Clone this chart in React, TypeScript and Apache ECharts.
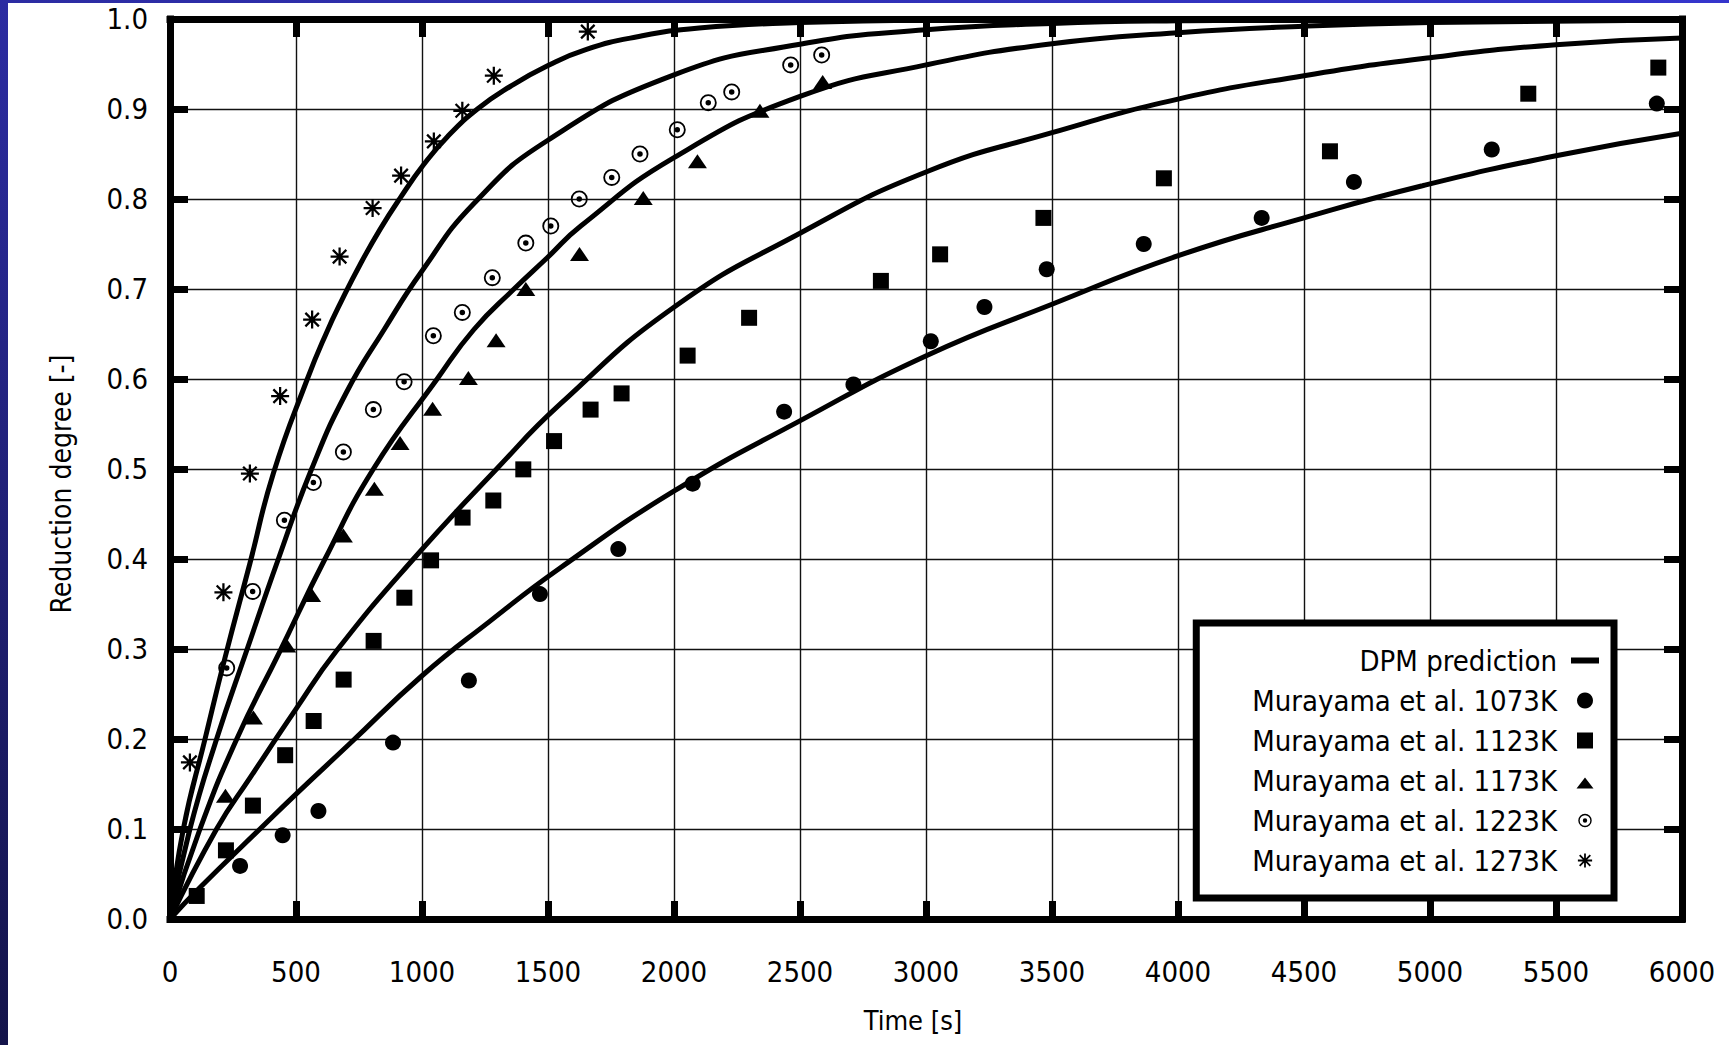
import React, { useEffect, useRef } from 'react';
import * as echarts from 'echarts';

const FONT = "'DejaVu Sans Condensed', 'DejaVu Sans', sans-serif";

// DPM prediction curves [time s, reduction degree]
const dpm1273: number[][] = [[0,0],[53,0.1],[139,0.2],[218,0.29],[317,0.395],[410,0.495],[545,0.6],[622,0.652],[681,0.687],[754,0.727],[833,0.766],[913,0.801],[1006,0.838],[1100,0.869],[1220,0.9],[1350,0.925],[1498,0.948],[1650,0.966],[1850,0.98],[2100,0.99],[2500,0.996],[3000,0.999],[4000,1.0],[6000,1.0]];
const dpm1223: number[][] = [[0,0],[79,0.1],[185,0.2],[304,0.298],[430,0.4],[562,0.5],[700,0.585],[850,0.655],[1000,0.72],[1206,0.795],[1498,0.865],[2000,0.938],[2500,0.972],[3000,0.988],[3500,0.995],[4000,0.998],[5000,1.0],[6000,1.0]];
const dpm1173: number[][] = [[0,0],[119,0.1],[265,0.2],[437,0.298],[615,0.4],[807,0.5],[1060,0.6],[1206,0.655],[1365,0.7],[1498,0.735],[1630,0.77],[2000,0.846],[2500,0.914],[3000,0.949],[3500,0.9726],[4000,0.9848],[4500,0.992],[5000,0.996],[6000,0.999]];
const dpm1123: number[][] = [[0,0],[185,0.1],[318,0.157],[499,0.233],[661,0.298],[966,0.4],[1296,0.5],[1548,0.572],[2001,0.68],[2500,0.762],[3000,0.83],[3500,0.8737],[4000,0.911],[4500,0.937],[5000,0.957],[5500,0.9715],[6000,0.979]];
const dpm1073: number[][] = [[0,0],[119,0.035],[357,0.1],[499,0.1385],[714,0.195],[999,0.27],[1270,0.331],[1548,0.39],[2001,0.4756],[2503,0.554],[2999,0.6256],[3500,0.683],[4001,0.737],[4500,0.779],[4966,0.8144],[5500,0.848],[6000,0.873]];

// Measured data, Murayama et al.
const mur1073: number[][] = [[278,0.059],[447,0.093],[589,0.12],[885,0.196],[1186,0.265],[1468,0.361],[1779,0.411],[2074,0.4837],[2437,0.5637],[2712,0.594],[3019,0.642],[3232,0.68],[3479,0.722],[3864,0.75],[4332,0.779],[4698,0.819],[5245,0.855],[5900,0.906]];
const mur1123: number[][] = [[106,0.0256],[222,0.0763],[329,0.126],[457,0.182],[570,0.22],[689,0.266],[808,0.309],[930,0.357],[1036,0.3985],[1161,0.446],[1283,0.465],[1402,0.4996],[1524,0.531],[1669,0.566],[1792,0.584],[2054,0.626],[2298,0.668],[2821,0.709],[3056,0.7385],[3466,0.779],[3944,0.823],[4603,0.853],[5390,0.917],[5906,0.946]];
const mur1173: number[][] = [[220,0.137],[331,0.224],[463,0.304],[562,0.36],[688,0.426],[811,0.478],[913,0.529],[1042,0.567],[1184,0.601],[1294,0.643],[1412,0.7],[1625,0.739],[1878,0.801],[2093,0.842],[2341,0.898],[2590,0.93]];
const mur1223: number[][] = [[225,0.279],[328,0.364],[454,0.443],[569,0.485],[688,0.519],[807,0.566],[929,0.597],[1045,0.648],[1160,0.674],[1279,0.7126],[1412,0.751],[1511,0.77],[1624,0.8],[1753,0.824],[1865,0.85],[2013,0.877],[2136,0.907],[2229,0.919],[2463,0.949],[2586,0.96]];
const mur1273: number[][] = [[79,0.174],[212,0.363],[317,0.495],[437,0.581],[564,0.666],[673,0.736],[804,0.79],[917,0.826],[1047,0.864],[1160,0.898],[1285,0.937],[1658,0.986]];

const DPM_NAME = 'DPM prediction';
const seriesNames = ['Murayama et al. 1073K', 'Murayama et al. 1123K', 'Murayama et al. 1173K', 'Murayama et al. 1223K', 'Murayama et al. 1273K'];

const RING_BODY = 'M0,-8A8,8,0,1,1,0,8A8,8,0,1,1,0,-8Z M0,-6.3A6.3,6.3,0,1,0,0,6.3A6.3,6.3,0,1,0,0,-6.3Z M0,-2.6A2.6,2.6,0,1,1,0,2.6A2.6,2.6,0,1,1,0,-2.6Z';
const STAR_BODY = 'M-8,-1L8,-1L8,1L-8,1Z M-1,-8L1,-8L1,8L-1,8Z M-5.29,-6.71L6.71,5.29L5.29,6.71L-6.71,-5.29Z M-6.71,5.29L5.29,-6.71L6.71,-5.29L-5.29,6.71Z';
const RING_DOT = 'path://' + RING_BODY;
const ASTERISK = 'path://' + STAR_BODY;
// legend icons (degenerate sub-paths pad the bounding box)
const ICON_LINE = 'path://M0,0L28,0L28,6L0,6Z';
const ICON_SQUARE = 'path://M0,0L16,0L16,16L0,16Z';
const ICON_TRIANGLE = 'path://M0,16L8.5,5L17,16Z M0,0L0,0Z';
const ICON_RING = 'path://' + RING_BODY + ' M-9.5,-9.5L-9.5,-9.5Z M9.5,9.5L9.5,9.5Z';
const ICON_STAR = 'path://' + STAR_BODY + ' M-9,-9L-9,-9Z M9,9L9,9Z';

export default function App() {
  const ref = useRef<HTMLDivElement>(null);
  useEffect(() => {
    if (!ref.current) return;
    const chart = echarts.init(ref.current, undefined, { renderer: 'svg' });
    const frameLine = { show: true, onZero: false, lineStyle: { color: '#000', width: 7, cap: 'square' as const } };
    const ticks = { show: true, inside: true, length: 18, lineStyle: { color: '#000', width: 7 } };
    const grid = { show: true, lineStyle: { color: '#111', width: 1.4 } };
    const labelStyle = { color: '#000', fontSize: 29, fontFamily: FONT };
    const lineSeries = (data: number[][]) => ({
      type: 'line', name: DPM_NAME, data, symbol: 'none', smooth: 0.5,
      lineStyle: { color: '#000', width: 5 }, itemStyle: { color: '#000' }, z: 3,
    });
    const scatter = (name: string, data: number[][], symbol: string, size: number | number[]) => ({
      type: 'scatter', name, data, symbol, symbolSize: size, itemStyle: { color: '#000', opacity: 1 }, z: 2,
    });
    chart.setOption({
      animation: false,
      backgroundColor: 'transparent',
      textStyle: { fontFamily: FONT },
      grid: { left: 170, top: 19, width: 1512, height: 900 },
      xAxis: [
        {
          type: 'value', min: 0, max: 6000, interval: 500, position: 'bottom',
          axisLine: frameLine, axisTick: ticks, splitLine: grid,
          axisLabel: { ...labelStyle, margin: 38, formatter: (v: number) => String(v) },
          name: 'Time [s]', nameLocation: 'middle', nameGap: 88,
          nameTextStyle: { color: '#000', fontSize: 27, fontFamily: FONT, padding: [0, 26, 0, 0] },
        },
        {
          type: 'value', min: 0, max: 6000, interval: 500, position: 'top',
          axisLine: frameLine, axisTick: ticks, splitLine: { show: false }, axisLabel: { show: false },
        },
      ],
      yAxis: [
        {
          type: 'value', min: 0, max: 1, interval: 0.1, position: 'left',
          axisLine: frameLine, axisTick: ticks, splitLine: grid,
          axisLabel: { ...labelStyle, margin: 22, formatter: (v: number) => v.toFixed(1) },
          name: 'Reduction degree [-]', nameLocation: 'middle', nameGap: 95,
          nameTextStyle: { color: '#000', fontSize: 28, fontFamily: FONT, padding: [0, 30, 0, 0] },
        },
        {
          type: 'value', min: 0, max: 1, interval: 0.1, position: 'right',
          axisLine: frameLine, axisTick: ticks, splitLine: { show: false }, axisLabel: { show: false },
        },
      ],
      legend: {
        orient: 'vertical', right: 115, top: 623, align: 'right',
        itemWidth: 28, itemHeight: 16, itemGap: 11,
        padding: [23, 15, 23, 56],
        backgroundColor: '#fff', borderColor: '#000', borderWidth: 7,
        textStyle: { fontSize: 29, fontFamily: FONT, color: '#000', lineHeight: 29, padding: [0, 9, 0, 0] },
        selectedMode: false,
        data: [
          { name: DPM_NAME, icon: ICON_LINE },
          { name: seriesNames[0], icon: 'circle' },
          { name: seriesNames[1], icon: ICON_SQUARE },
          { name: seriesNames[2], icon: ICON_TRIANGLE },
          { name: seriesNames[3], icon: ICON_RING },
          { name: seriesNames[4], icon: ICON_STAR },
        ],
        z: 10,
      },
      series: [
        scatter(seriesNames[0], mur1073, 'circle', 16),
        scatter(seriesNames[1], mur1123, 'rect', 16),
        scatter(seriesNames[2], mur1173, 'triangle', [19, 14]),
        scatter(seriesNames[3], mur1223, RING_DOT, 17),
        scatter(seriesNames[4], mur1273, ASTERISK, 18),
        lineSeries(dpm1273),
        lineSeries(dpm1223),
        lineSeries(dpm1173),
        lineSeries(dpm1123),
        lineSeries(dpm1073),
      ],
    });
    return () => chart.dispose();
  }, []);

  return (
    <div style={{ position: 'fixed', left: 0, top: 0, width: 1729, height: 1045, background: '#fff', overflow: 'hidden' }}>
      <div style={{ position: 'absolute', left: 0, top: 0, width: 8, height: 1045, background: 'linear-gradient(180deg, #2c2ca2 0%, #14144a 100%)' }} />
      <div style={{ position: 'absolute', left: 0, top: 0, width: 1729, height: 3, background: 'linear-gradient(90deg, #2c2ca2 0%, #3535cc 100%)' }} />
      <div ref={ref} style={{ position: 'absolute', left: 0, top: 0, width: 1729, height: 1045 }} />
    </div>
  );
}
